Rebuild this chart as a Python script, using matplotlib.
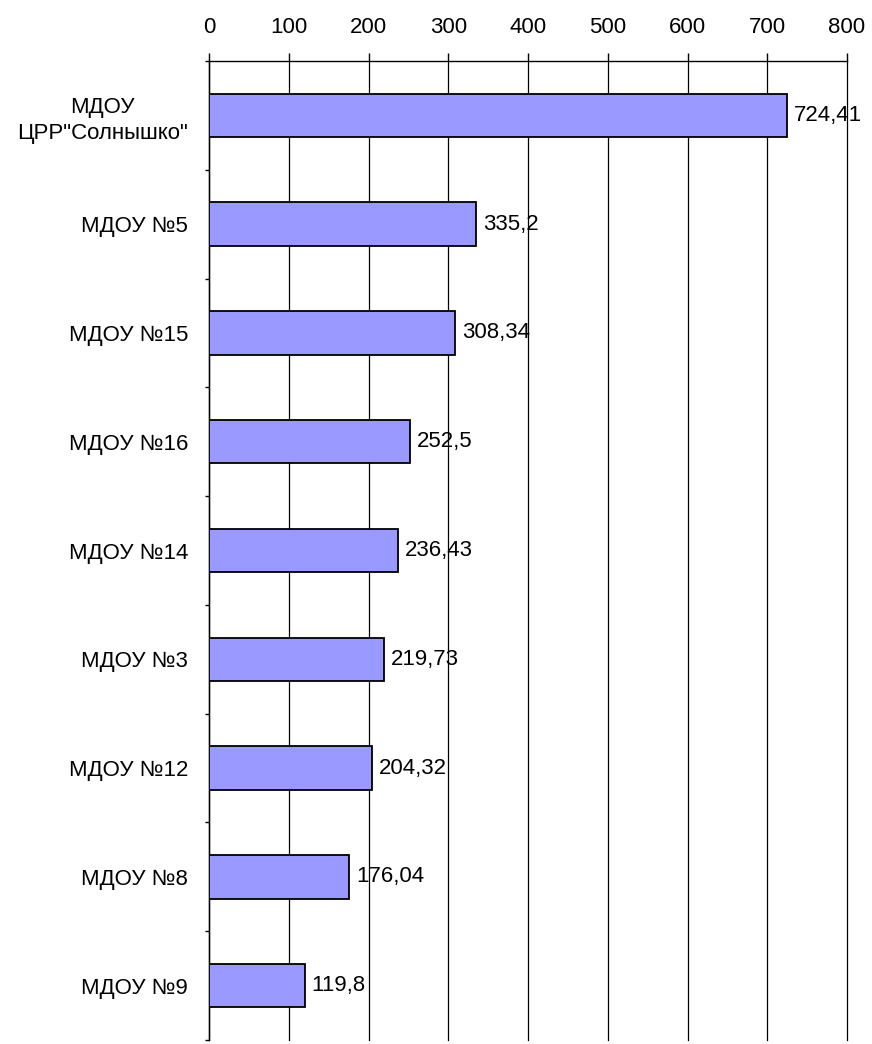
import matplotlib.pyplot as plt
from matplotlib.ticker import FixedLocator

plt.rcParams['font.family'] = ['Liberation Sans', 'DejaVu Sans']

# Data
categories = ['МДОУ\nЦРР"Солнышко"', 'МДОУ №5', 'МДОУ №15', 'МДОУ №16', 'МДОУ №14',
              'МДОУ №3', 'МДОУ №12', 'МДОУ №8', 'МДОУ №9']
values = [724.41, 335.2, 308.34, 252.5, 236.43, 219.73, 204.32, 176.04, 119.8]
value_labels = ['724,41', '335,2', '308,34', '252,5', '236,43', '219,73', '204,32', '176,04', '119,8']
x_ticks = [0, 100, 200, 300, 400, 500, 600, 700, 800]

fig = plt.figure(figsize=(8.72, 10.44), dpi=100)
ax = fig.add_axes([209 / 872, 4 / 1044, (847 - 209) / 872, (1040 - 61) / 1044])

pos = list(range(len(categories)))
ax.barh(pos, values, height=0.4, color='#9999FF', edgecolor='black', linewidth=1.3, zorder=3)

for p, v, lab in zip(pos, values, value_labels):
    ax.annotate(lab, (v, p), xytext=(5, 0), textcoords='offset points',
                ha='left', va='center', fontsize=16, zorder=4)

ax.set_xlim(0, 800)
ax.set_ylim(len(categories) - 0.5, -0.5)

ax.xaxis.tick_top()
ax.set_xticks(x_ticks)
ax.set_xticklabels([str(t) for t in x_ticks], fontsize=16)
ax.tick_params(axis='x', length=5.5, width=1, pad=11, color='black')
ax.grid(axis='x', color='black', linewidth=0.9, zorder=0)
for gl in ax.get_xgridlines():
    gl.set_clip_on(False)

ax.set_yticks(pos)
ax.set_yticklabels(categories, fontsize=16, ha='right', multialignment='center', linespacing=1.3)
ax.tick_params(axis='y', which='major', length=0, pad=15)
ax.yaxis.set_minor_locator(FixedLocator([i - 0.5 for i in range(len(categories) + 1)]))
ax.tick_params(axis='y', which='minor', length=3, width=1, color='black')

ax.spines['right'].set_visible(False)
ax.spines['bottom'].set_visible(False)
ax.spines['top'].set_linewidth(1)
ax.spines['left'].set_linewidth(1)

fig.savefig('out.png', dpi=100)
